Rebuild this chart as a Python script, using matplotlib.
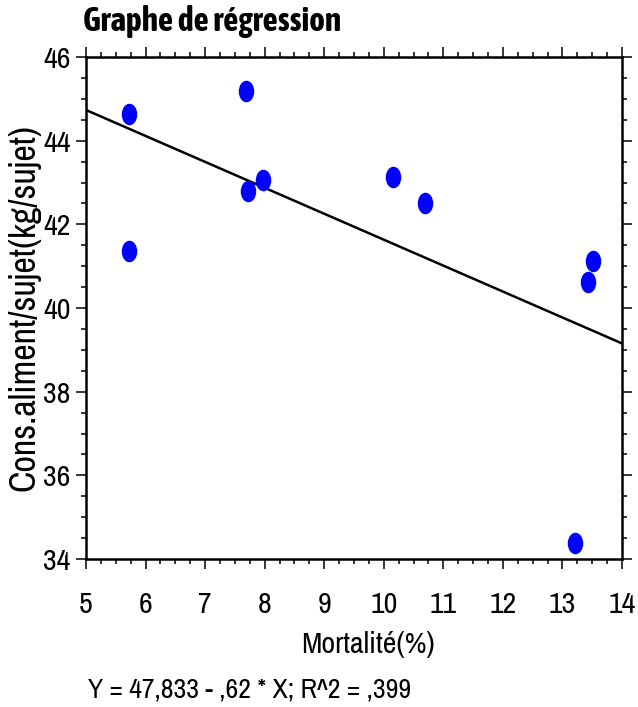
import matplotlib
matplotlib.use("Agg")
import matplotlib.pyplot as plt
import numpy as np
from matplotlib.path import Path
from matplotlib.ticker import MultipleLocator
from matplotlib import font_manager

# polices étroites : une pour le texte courant, une avec graisse grasse pour le titre
weights = {}
for f in font_manager.fontManager.ttflist:
    if 'Narrow' in f.name or 'Condensed' in f.name:
        w = f.weight if isinstance(f.weight, int) else font_manager.weight_dict.get(f.weight, 400)
        weights.setdefault(f.name, set()).add(w)
with_bold = sorted(n for n, ws in weights.items() if max(ws) >= 700 and min(ws) <= 500)
narrow = sorted(weights)
if narrow:
    plt.rcParams['font.family'] = [narrow[0], 'Liberation Sans', 'DejaVu Sans']
    fs = 21.5
else:
    plt.rcParams['font.family'] = ['Liberation Sans', 'DejaVu Sans']
    fs = 20
title_family = [with_bold[0]] if with_bold else plt.rcParams['font.family']

# mortalité (%) et consommation d'aliment (kg/sujet)
mortalite = [5.73, 5.73, 7.69, 7.72, 7.97, 10.16, 10.69, 13.52, 13.43, 13.21]
conso = [44.63, 41.37, 45.19, 42.80, 43.06, 43.12, 42.50, 41.13, 40.62, 34.38]

# droite de régression
b0 = 47.833
b1 = -0.62
r2 = 0.399

x_ticks = [5, 6, 7, 8, 9, 10, 11, 12, 13, 14]
y_ticks = [34, 36, 38, 40, 42, 44, 46]

fig = plt.figure(figsize=(6.38, 7.07), dpi=100)
ax = fig.add_axes([86 / 638, 1 - 559 / 707, (622 - 86) / 638, (559 - 57) / 707])

# ellipse verticale comme marqueur
circ = Path.unit_circle()
ellipse = Path(circ.vertices * np.array([0.72, 1.0]), circ.codes)

xl = np.array([5, 14])
ax.plot(xl, b0 + b1 * xl, color='black', lw=1.8, zorder=2)
ax.plot(mortalite, conso, linestyle='none', marker=ellipse, markersize=15.5,
        color='#0000ff', markeredgewidth=0, zorder=3)

ax.set_xlim(5, 14)
ax.set_ylim(34, 46)
ax.set_xticks(x_ticks)
ax.set_yticks(y_ticks)
ax.xaxis.set_minor_locator(MultipleLocator(0.25))
ax.yaxis.set_minor_locator(MultipleLocator(0.5))
ax.tick_params(which='both', direction='out', top=True, right=True, width=1.1)
ax.tick_params(which='major', length=7.2, labelsize=fs)
ax.tick_params(which='minor', length=3.6)
ax.tick_params(axis='x', pad=16)
ax.tick_params(axis='y', pad=4)
for s in ax.spines.values():
    s.set_linewidth(1.8)

ax.set_ylabel('Cons.aliment/sujet(kg/sujet)', fontsize=26, labelpad=2)

fig.text(368 / 638, 1 - 645 / 707, 'Mortalité(%)', fontsize=fs, ha='center', va='center')
fig.text(88 / 638, 1 - 690 / 707, 'Y = 47,833 - ,62 * X; R^2 = ,399',
         fontsize=fs - 1.5, ha='left', va='center')
fig.text(83 / 638, 1 - 22 / 707, 'Graphe de régression', fontsize=24,
         family=title_family, fontweight='bold', ha='left', va='center')

fig.savefig('out.png', dpi=100)
